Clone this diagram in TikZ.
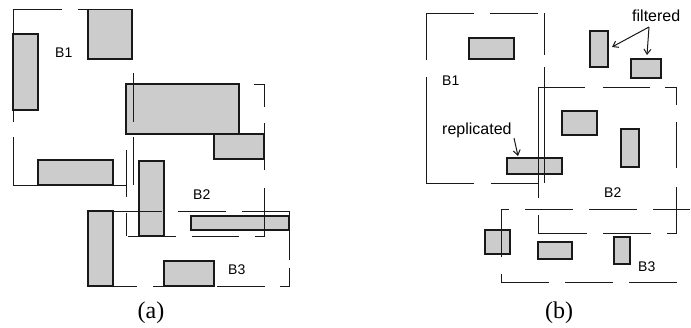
\documentclass[tikz,border=0pt]{standalone}
\usepackage{fontspec}
\setmainfont{Liberation Serif}
\newfontfamily\labelfont{Liberation Sans}
\usetikzlibrary{arrows.meta}
\begin{document}
\begin{tikzpicture}[x=1pt,y=-1pt,
  grayrect/.style={fill=black!20,draw=black!90,line width=1.1pt},
  edge/.style={draw=black!90,line width=1pt},
  blabel/.style={font=\labelfont\fontsize{14}{14}\selectfont,anchor=base west,inner sep=0pt},
  tlabel/.style={font=\labelfont\fontsize{16}{16}\selectfont,anchor=base west,inner sep=0pt},
  caption/.style={font=\fontsize{24}{24}\selectfont,anchor=base,inner sep=0pt},
  pointer/.style={draw=black!90,line width=1pt,-{Straight Barb[length=5pt,width=7pt]}}]
\useasboundingbox (0,0) rectangle (691,327);

% ---------- panel (a) rectangles ----------
\draw[grayrect] (88,9.5) rectangle (132,59);
\draw[grayrect] (13,34) rectangle (38,110);
\draw[grayrect] (126,84) rectangle (239,134);
\draw[grayrect] (214,134) rectangle (264,159);
\draw[grayrect] (38,160) rectangle (113,185);
\draw[grayrect] (139,161) rectangle (164,236);
\draw[grayrect] (191,216) rectangle (289,230);
\draw[grayrect] (88,211) rectangle (113,286);
\draw[grayrect] (164,261) rectangle (214,286);

% ---------- panel (a) bucket outlines ----------
% B1
\draw[edge] (13,9.5) -- (62,9.5);
\draw[edge] (78,9.5) -- (133,9.5);
\draw[edge] (13,9.5) -- (13,122);
\draw[edge] (13,137) -- (13,185) -- (126,185);
\draw[edge] (133,73) -- (133,122);
\draw[edge] (133,137) -- (133,185);
% B2
\draw[edge] (254,84) -- (264,84) -- (264,107);
\draw[edge] (264,123) -- (264,170);
\draw[edge] (264,188) -- (264,236) -- (255,236);
\draw[edge] (239,236) -- (192,236);
\draw[edge] (176,236) -- (128,236);
\draw[edge] (126,150) -- (126,197);
\draw[edge] (126,213) -- (126,236);
% B3
\draw[edge] (88,211) -- (162,211);
\draw[edge] (178,211) -- (226,211);
\draw[edge] (242,211) -- (289,211) -- (289,260);
\draw[edge] (289,268) -- (289,286) -- (280,286);
\draw[edge] (265,286) -- (217,286);
\draw[edge] (214,286) -- (153,286);
\draw[edge] (137,286) -- (88,286) -- (88,211);

\node[blabel] (a1) at (55,57) {B1};
\node[blabel] (a2) at (193,199) {B2};
\node[blabel] (a3) at (228,274) {B3};
\node[caption] (capa) at (151,318.5) {(a)};

% ---------- panel (b) rectangles ----------
\draw[grayrect] (469,38) rectangle (514,59);
\draw[grayrect] (590,31) rectangle (608,67);
\draw[grayrect] (631,59) rectangle (661,78);
\draw[grayrect] (562,111) rectangle (597,135);
\draw[grayrect] (621,129) rectangle (639,167);
\draw[grayrect] (507,158) rectangle (562,174);
\draw[grayrect] (485,230) rectangle (510,254);
\draw[grayrect] (538,242) rectangle (572,259);
\draw[grayrect] (614,237) rectangle (630,264);

% ---------- panel (b) bucket outlines ----------
% B1
\draw[edge] (426,60) -- (426,13) -- (474,13);
\draw[edge] (490,13) -- (538,13);
\draw[edge] (544,13) -- (544,55);
\draw[edge] (544,67) -- (544,183);
\draw[edge] (426,77) -- (426,183) -- (474,183);
\draw[edge] (491,183) -- (538,183);
% B2
\draw[edge] (538,198) -- (538,87) -- (585,87);
\draw[edge] (603,87) -- (650,87);
\draw[edge] (665,87) -- (676,87) -- (676,105);
\draw[edge] (676,122) -- (676,168);
\draw[edge] (676,187) -- (676,233) -- (667,233);
\draw[edge] (651,233) -- (603,233);
\draw[edge] (587,233) -- (538,233) -- (538,215);
% B3
\draw[edge] (501,257) -- (501,209) -- (509,209);
\draw[edge] (525,209) -- (573,209);
\draw[edge] (589,209) -- (637,209);
\draw[edge] (653,209) -- (690,209);
\draw[edge] (501,274) -- (501,282) -- (549,282);
\draw[edge] (565,282) -- (613,282);
\draw[edge] (629,282) -- (677,282);

\node[blabel] (b1) at (442,85) {B1};
\node[blabel] (b2) at (604,197) {B2};
\node[blabel] (b3) at (638,271) {B3};
\node[caption] (capb) at (559,318.5) {(b)};

% ---------- annotations ----------
\node[tlabel] (filt) at (632,21) {filtered};
\coordinate (fapex) at (649,27);
\coordinate (ftipA) at (612,47);
\coordinate (ftipB) at (647,55);
\draw[pointer] (fapex) -- (ftipA);
\draw[pointer] (fapex) -- (ftipB);

\node[tlabel] (repl) at (442,134) {replicated};
\coordinate (rstart) at (514,138);
\coordinate (rtip) at (518,156);
\draw[pointer] (rstart) -- (rtip);
\end{tikzpicture}
\end{document}
